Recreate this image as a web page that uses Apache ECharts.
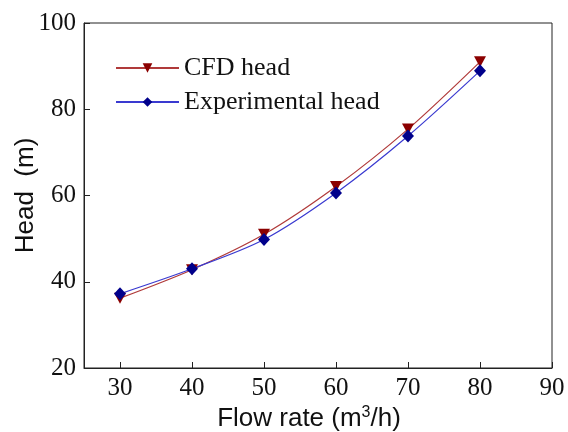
<!DOCTYPE html>
<html><head><meta charset="utf-8">
<script src="https://cdn.jsdelivr.net/npm/echarts@6/dist/echarts.min.js"></script>
<style>html,body{margin:0;padding:0;background:#fff}#c{width:568px;height:432px}</style>
</head><body><div id="c"></div>
<script>
var flowRates = [30, 40, 50, 60, 70, 80];
var cfdHead = [36.2, 42.8, 51.0, 62.1, 75.4, 91.0];
var expHead = [37.2, 43.0, 49.8, 60.6, 73.8, 88.9];
var xTicks = [30, 40, 50, 60, 70, 80, 90];
var yTicks = [20, 40, 60, 80, 100];

var chart = echarts.init(document.getElementById('c'));
var serif = '"Liberation Serif", "Times New Roman", serif';
var sans = '"Liberation Sans", Arial, sans-serif';
chart.setOption({
  animation: false,
  grid: {left: 84, top: 23, right: 16, bottom: 64, show: true, borderColor: '#222', borderWidth: 1,
         containLabel: false, outerBoundsMode: 'none'},
  legend: {
    left: 110, top: 50, orient: 'vertical', itemWidth: 63, itemHeight: 12, itemGap: 8,
    textStyle: {fontFamily: serif, fontSize: 26, color: '#111', lineHeight: 26},
    data: ['CFD head', 'Experimental head']
  },
  xAxis: {
    type: 'value', min: 25, max: 90,
    name: '{a|Flow rate (m}{s|3}{a|/h)}', nameLocation: 'middle', nameGap: 37, nameMoveOverlap: false,
    nameTextStyle: {padding: [0, 18, 0, 0], rich: {
      a: {fontFamily: sans, fontSize: 26, color: '#111'},
      s: {fontFamily: sans, fontSize: 16, color: '#111', verticalAlign: 'top', padding: [0, 0, 12, 0]}
    }},
    axisLine: {show: true, lineStyle: {color: '#222'}},
    axisTick: {show: true, inside: true, length: 6, customValues: xTicks, lineStyle: {color: '#222'}},
    axisLabel: {customValues: xTicks, fontFamily: serif, fontSize: 25, color: '#111', margin: 8},
    splitLine: {show: false}
  },
  yAxis: {
    type: 'value', min: 20, max: 100, interval: 20,
    name: 'Head  (m)', nameLocation: 'middle', nameGap: 45, nameMoveOverlap: false,
    nameTextStyle: {fontFamily: sans, fontSize: 26, color: '#111'},
    axisLine: {show: true, lineStyle: {color: '#222'}},
    axisTick: {show: true, inside: true, length: 6, lineStyle: {color: '#222'}},
    axisLabel: {fontFamily: serif, fontSize: 25, color: '#111', margin: 8},
    splitLine: {show: false}
  },
  series: [
    {
      name: 'CFD head', type: 'line', smooth: 0.3,
      data: flowRates.map(function (x, i) { return [x, cfdHead[i]]; }),
      symbol: 'path://M0,0 L10,0 L5,9 Z', symbolSize: [12, 11],
      itemStyle: {color: '#8b0000'},
      lineStyle: {color: '#b03a3a', width: 1.2}
    },
    {
      name: 'Experimental head', type: 'line', smooth: 0.3,
      data: flowRates.map(function (x, i) { return [x, expHead[i]]; }),
      symbol: 'diamond', symbolSize: [12, 13],
      itemStyle: {color: '#00008b'},
      lineStyle: {color: '#3a3ad0', width: 1.2}
    }
  ]
});
</script></body></html>
